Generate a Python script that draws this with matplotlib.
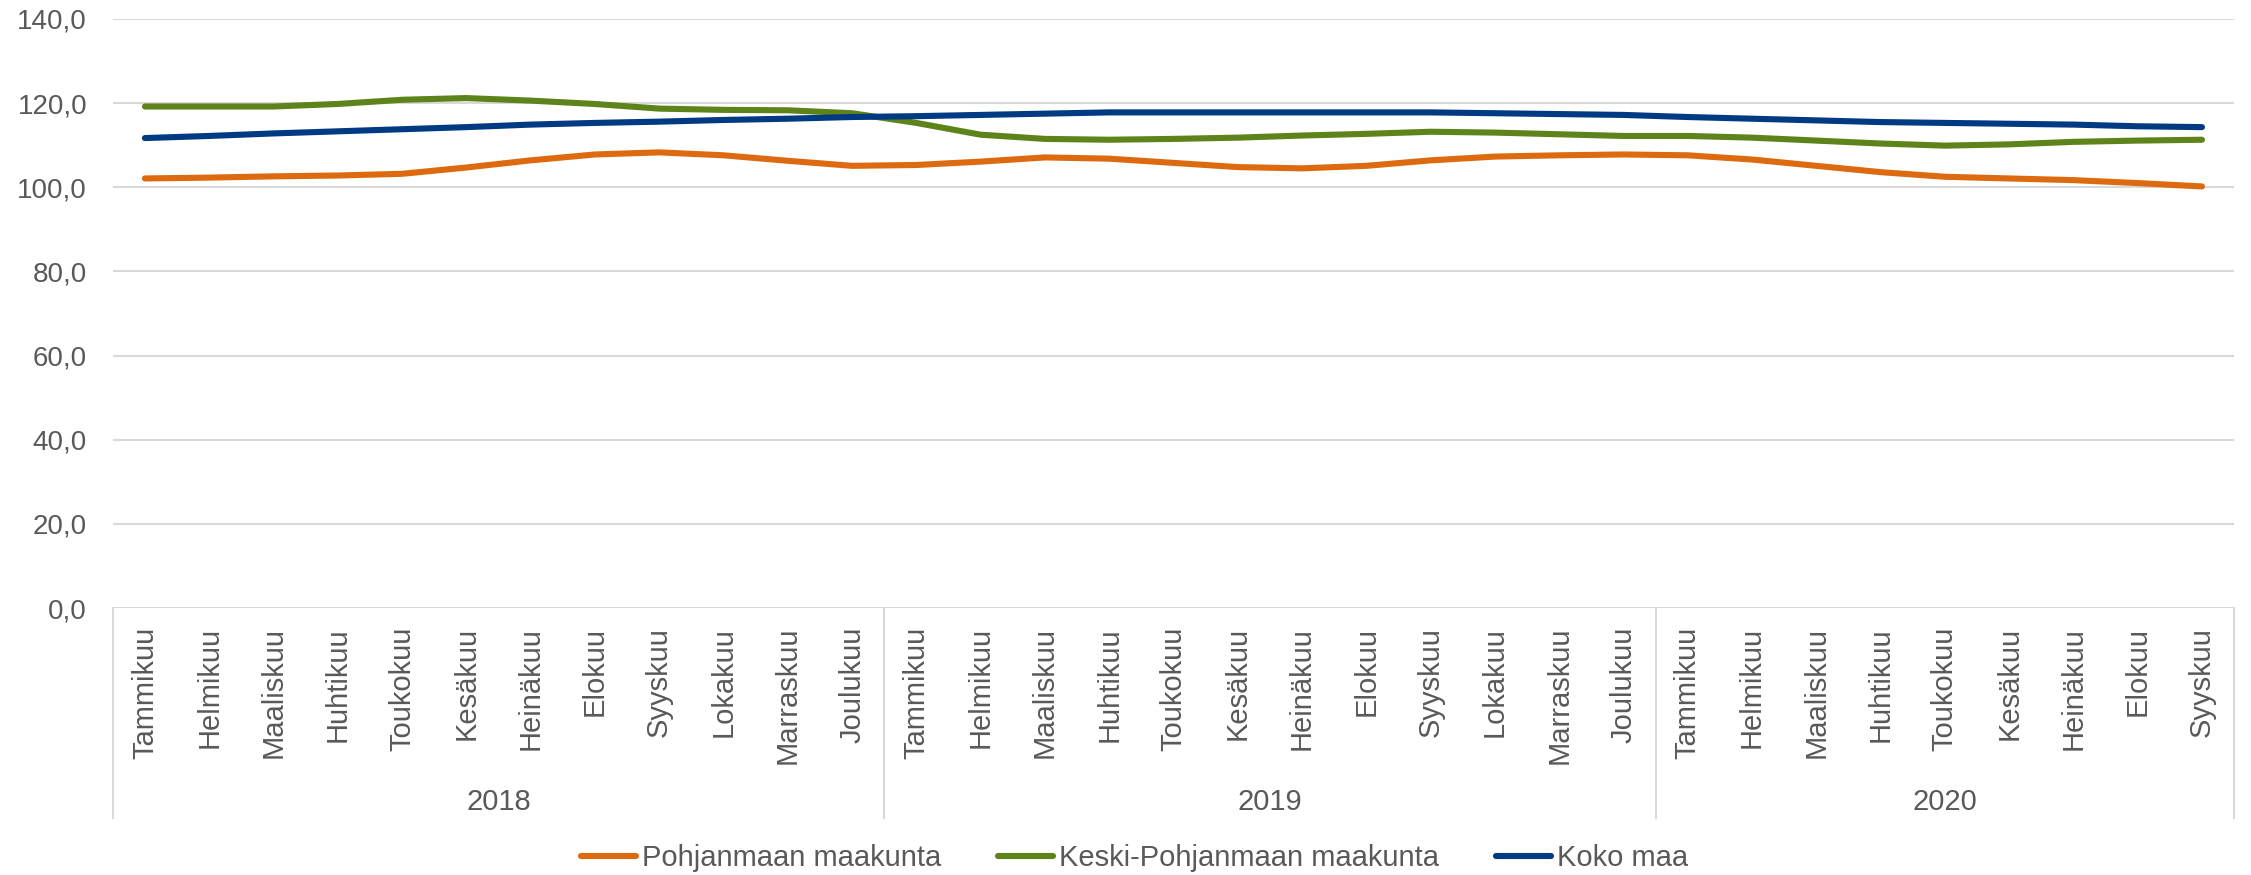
import matplotlib
matplotlib.use("Agg")
import matplotlib.pyplot as plt
from matplotlib import transforms

plt.rcParams['font.family'] = ['Liberation Sans', 'DejaVu Sans']

# Data
# ------------------------------
months = ["Tammikuu", "Helmikuu", "Maaliskuu", "Huhtikuu", "Toukokuu",
          "Kesäkuu", "Heinäkuu", "Elokuu", "Syyskuu", "Lokakuu",
          "Marraskuu", "Joulukuu"]
years = ["2018", "2019", "2020"]
months_per_year = [12, 12, 9]

pohjanmaa = [102.1, 102.3, 102.6, 102.8, 103.2, 104.7, 106.4, 107.8, 108.3, 107.6, 106.3, 105.1,
             105.3, 106.1, 107.1, 106.8, 105.8, 104.8, 104.5, 105.1, 106.4, 107.3, 107.6, 107.8,
             107.6, 106.6, 105.1, 103.6, 102.5, 102.1, 101.7, 101.0, 100.2]
keski_pohjanmaa = [119.2, 119.2, 119.2, 119.8, 120.8, 121.2, 120.6, 119.8, 118.7, 118.4, 118.3, 117.6,
                   115.3, 112.5, 111.5, 111.3, 111.5, 111.8, 112.3, 112.7, 113.2, 113.0, 112.6, 112.2,
                   112.2, 111.8, 111.1, 110.4, 109.9, 110.2, 110.8, 111.1, 111.3]
koko_maa = [111.7, 112.2, 112.8, 113.3, 113.8, 114.3, 114.9, 115.3, 115.6, 116.0, 116.3, 116.7,
            116.9, 117.2, 117.5, 117.8, 117.8, 117.8, 117.8, 117.8, 117.8, 117.6, 117.4, 117.2,
            116.7, 116.3, 115.9, 115.5, 115.3, 115.1, 114.9, 114.5, 114.3]

series_names = ["Pohjanmaan maakunta", "Keski-Pohjanmaan maakunta", "Koko maa"]
series_colors = ["#DE6A10", "#5E831A", "#003A82"]

text_color = "#595959"
grid_color = "#D9D9D9"

# Build category labels
labels = []
for n in months_per_year:
    labels += months[:n]
x = list(range(len(labels)))

# Plot
# ------------------------------
fig = plt.figure(figsize=(22.51, 8.75), dpi=100)
ax = fig.add_axes([0.0501, 0.3051, 0.9424, 0.6732])

for vals, name, col in zip([pohjanmaa, keski_pohjanmaa, koko_maa], series_names, series_colors):
    ax.plot(x, vals, color=col, lw=4.4, solid_capstyle="round",
            solid_joinstyle="round", label=name, zorder=3)

ax.set_xlim(-0.5, len(labels) - 0.5)
ax.set_ylim(0, 140)
ax.set_yticks(range(0, 141, 20))
ax.set_yticklabels([f"{v:.1f}".replace(".", ",") for v in range(0, 141, 20)])
ax.tick_params(axis="y", length=0, pad=18.5, labelsize=20, labelcolor=text_color)
ax.set_xticks([])
ax.grid(axis="y", color=grid_color, lw=1.5, zorder=0)
for s in ax.spines.values():
    s.set_visible(False)

# Category axis: month labels, year labels, dividers
trans = transforms.blended_transform_factory(ax.transData, ax.transAxes)
for i, lab in enumerate(labels):
    ax.text(i, -0.032, lab, transform=trans, rotation=90, ha="center", va="top",
            fontsize=21, color=text_color)

start = 0
bounds = [-0.5]
for yr, n in zip(years, months_per_year):
    ax.text(start + (n - 1) / 2, -0.329, yr, transform=trans, ha="center", va="center",
            fontsize=21, color=text_color)
    start += n
    bounds.append(start - 0.5)
for b in bounds:
    ax.plot([b, b], [0, -0.3565], transform=trans, color=grid_color, lw=1.5,
            clip_on=False, zorder=1)

fig.legend(loc="center", bbox_to_anchor=(0.504, 0.019), ncol=3, frameon=False,
           fontsize=21, labelcolor=text_color, handlelength=1.9, handletextpad=0.2,
           columnspacing=1.95)

fig.savefig("out.png", dpi=100)
